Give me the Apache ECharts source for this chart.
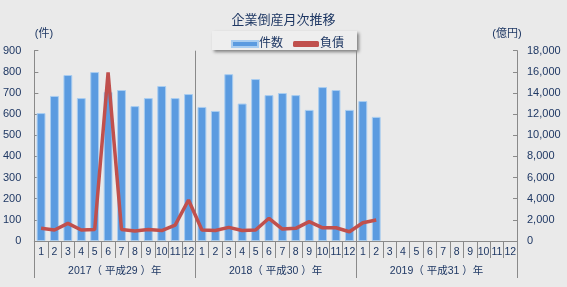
<!DOCTYPE html>
<html><head><meta charset="utf-8">
<script src="https://cdn.jsdelivr.net/npm/echarts@6/dist/echarts.min.js"></script>
<style>html,body{margin:0;padding:0;background:#EAEAEA;}#c{width:567px;height:287px;}</style>
</head><body><div id="c"></div>
<script>
const months = ['1','2','3','4','5','6','7','8','9','10','11','12','1','2','3','4','5','6','7','8','9','10','11','12','1','2','3','4','5','6','7','8','9','10','11','12'];
const years = ['2017（ 平成29 ）年','2018（ 平成30 ）年','2019（ 平成31 ）年'];
const counts = [605,686,785,676,799,705,714,638,676,733,676,695, 634,615,789,650,766,690,700,690,620,728,714,620, 662,587,null,null,null,null,null,null,null,null,null,null];
const debt = [1200,1040,1670,1040,1080,15950,1080,950,1080,990,1500,3880, 1040,990,1290,990,1040,2150,1130,1200,1830,1250,1250,880, 1730,1990,null,null,null,null,null,null,null,null,null,null];
const ticksLeft = [0,900,100];
const ticksRight = [0,18000,2000];

const FONT = "'Liberation Sans','Noto Sans CJK JP',sans-serif";
const TXT = '#1F3864';
const GRAY = '#8A8A8A';
const chart = echarts.init(document.getElementById('c'));
chart.setOption({
  backgroundColor: '#EAEAEA',
  animation: false,
  textStyle: {fontFamily: FONT},
  title: {text: '企業倒産月次推移', left: 'center', top: 9,
    textStyle: {fontSize: 13, fontWeight: 'normal', color: TXT, fontFamily: FONT}},
  graphic: [
    {type: 'rect', shape: {x: 212, y: 31, width: 145, height: 19}, z: 0,
      style: {fill: '#EEEEEE', shadowBlur: 3, shadowOffsetX: 2, shadowOffsetY: 2, shadowColor: 'rgba(0,0,0,0.45)'}},
    {type: 'text', x: 44, y: 34, style: {text: '(件)', fill: TXT, font: '11px ' + FONT, textAlign: 'center', textVerticalAlign: 'middle'}},
    {type: 'text', x: 507, y: 34, style: {text: '(億円)', fill: TXT, font: '11px ' + FONT, textAlign: 'center', textVerticalAlign: 'middle'}}
  ],
  legend: {left: 226, top: 33, itemWidth: 26, itemHeight: 6, itemGap: 10,
    textStyle: {fontSize: 12, color: TXT, padding: [0, 0, 0, -4]},
    data: [{name: '件数', icon: 'rect'}, {name: '負債', icon: 'roundRect', itemStyle: {color: '#C0504D'}}]},
  grid: {left: 33, right: 50, top: 50.7, bottom: 46},
  xAxis: [
    {type: 'category', data: months, position: 'bottom',
      axisLine: {show: true, lineStyle: {color: GRAY}},
      axisTick: {show: true, length: 17, interval: 0, lineStyle: {color: GRAY}},
      axisLabel: {interval: 0, fontSize: 10.5, color: TXT, margin: 6}},
    {type: 'category', data: years, position: 'bottom',
      axisLine: {show: true, lineStyle: {color: GRAY}},
      axisTick: {show: true, length: 37, interval: 0, lineStyle: {color: GRAY}},
      axisLabel: {interval: 0, fontSize: 10.5, color: TXT, margin: 25},
      splitLine: {show: true, lineStyle: {color: GRAY}}}
  ],
  yAxis: [
    {type: 'value', min: ticksLeft[0], max: ticksLeft[1], interval: ticksLeft[2],
      axisLine: {show: true, lineStyle: {color: GRAY}},
      axisTick: {show: true, inside: true, length: 4, lineStyle: {color: GRAY}},
      splitLine: {show: false},
      axisLabel: {fontSize: 11, color: TXT, margin: 13}},
    {type: 'value', min: ticksRight[0], max: ticksRight[1], interval: ticksRight[2],
      axisLine: {show: true, lineStyle: {color: GRAY}},
      axisTick: {show: true, inside: true, length: 4, lineStyle: {color: GRAY}},
      splitLine: {show: false},
      axisLabel: {fontSize: 11, color: TXT, margin: 10,
        formatter: v => v.toLocaleString('en-US')}}
  ],
  series: [
    {name: '件数', type: 'bar', data: counts, barWidth: '66%', xAxisIndex: 0, yAxisIndex: 0,
      itemStyle: {color: '#5B9BE0', borderColor: '#A9CDF0', borderWidth: 1}},
    {name: '負債', type: 'line', data: debt, xAxisIndex: 0, yAxisIndex: 1,
      showSymbol: false, symbol: 'none', lineStyle: {color: '#C0504D', width: 3.5}, itemStyle: {color: '#C0504D'}}
  ]
});
</script></body></html>
